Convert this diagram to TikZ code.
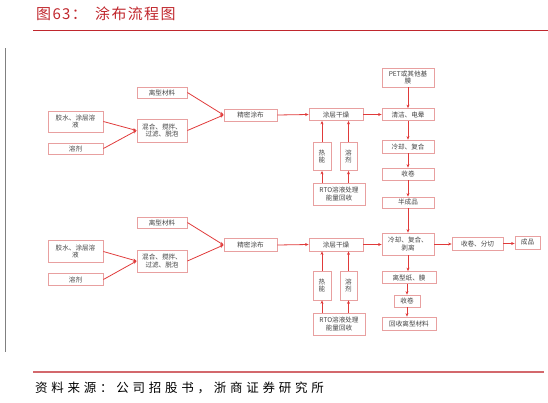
\documentclass[tikz,border=0pt]{standalone}
\usepackage{fontspec}
\newfontfamily\cjk{Noto Sans CJK SC}
\newfontfamily\cjktitle[LetterSpace=9]{Noto Sans CJK SC}
\newfontfamily\cjksrc[LetterSpace=30]{Noto Sans CJK SC}
\usetikzlibrary{arrows.meta}
\definecolor{boxred}{HTML}{E8A0A0}
\definecolor{arrred}{HTML}{E03A3A}
\definecolor{titlered}{HTML}{C0272D}
\definecolor{txtgray}{HTML}{444444}
\tikzset{
  box/.style={draw=boxred, line width=0.8pt, fill=white, inner sep=0pt,
    font=\cjk\fontsize{6.6}{7.6}\selectfont, text=txtgray, align=center},
  arr/.style={draw=arrred, line width=0.8pt, -{Stealth[length=3.5pt,width=3pt]}}
}
\begin{document}
\begin{tikzpicture}[x=1pt,y=-1pt]
\useasboundingbox (0,0) rectangle (548,402);
% frame decorations
\node[anchor=west, inner sep=0, font=\cjktitle\fontsize{15}{16}\selectfont, text=titlered] (title) at (36,14) {图63：};
\node[anchor=west, inner sep=0, font=\cjktitle\fontsize{15}{16}\selectfont, text=titlered] (title2) at (95,14) {涂布流程图};
\draw[titlered, line width=0.9pt] (33,30.5) coordinate (tl1) -- (548,30.5) coordinate (tl2);
\draw[gray, line width=0.5pt] (5,48) coordinate (gl1) -- (5,352) coordinate (gl2);
\draw[titlered!70, line width=1.2pt] (33,372) coordinate (bl1) -- (544,372) coordinate (bl2);
\node[anchor=west, inner sep=0, font=\cjksrc\fontsize{12.5}{13}\selectfont] (src) at (35,388) {资料来源：公司招股书，浙商证券研究所};

% ---------- upper section ----------
\node[box, minimum width=55pt, minimum height=21pt] (glue1) at (75.5,121.5) {胶水、涂层溶\\液};
\node[box, minimum width=55pt, minimum height=11pt] (solv1) at (75.5,148.5) {溶剂};
\node[box, minimum width=50pt, minimum height=11pt] (rel1) at (162,92.5) {离型材料};
\node[box, minimum width=50pt, minimum height=23pt] (mix1) at (162,130.5) {混合、搅拌、\\过滤、脱泡};
\node[box, minimum width=53pt, minimum height=12pt] (coat1) at (250.5,115) {精密涂布};
\node[box, minimum width=54pt, minimum height=12pt] (dry1) at (336,114.5) {涂层干燥};
\node[box, minimum width=18pt, minimum height=28pt] (heat1) at (322,156.5) {热\\能};
\node[box, minimum width=17pt, minimum height=28pt] (solv1v) at (348.5,156.5) {溶\\剂};
\node[box, minimum width=52pt, minimum height=22pt] (rto1) at (339,194) {RTO溶液处理\\能量回收};
\node[box, minimum width=52pt, minimum height=19pt] (pet) at (408,77.5) {PET或其他基\\膜};
\node[box, minimum width=52pt, minimum height=12pt] (clean) at (408,114.5) {清洁、电晕};
\node[box, minimum width=52pt, minimum height=13pt] (cool1) at (408,146.5) {冷却、复合};
\node[box, minimum width=52pt, minimum height=12pt] (wind1) at (408,174) {收卷};
\node[box, minimum width=52pt, minimum height=11pt] (semi) at (408,202.5) {半成品};

\draw[arr] (glue1.east) -- (mix1.west);
\draw[arr] (solv1.east) -- (mix1.west);
\draw[arr] (rel1.east) -- (coat1.west);
\draw[arr] (mix1.east) -- (coat1.west);
\draw[arr] (coat1.east) -- (dry1.west);
\draw[arr] (dry1.east) -- (clean.west);
\draw[arr] (rto1.north -| heat1.south) -- (heat1.south);
\draw[arr] (heat1.north) -- (heat1.north |- dry1.south);
\draw[arr] (rto1.north -| solv1v.south) -- (solv1v.south);
\draw[arr] (solv1v.north) -- (solv1v.north |- dry1.south);
\draw[arr] (pet) -- (clean);
\draw[arr] (clean) -- (cool1);
\draw[arr] (cool1) -- (wind1);
\draw[arr] (wind1) -- (semi);

% ---------- lower section ----------
\node[box, minimum width=50pt, minimum height=11pt] (rel2) at (162,222.5) {离型材料};
\node[box, minimum width=55pt, minimum height=22pt] (glue2) at (75.5,251.5) {胶水、涂层溶\\液};
\node[box, minimum width=55pt, minimum height=12pt] (solv2) at (75.5,279.5) {溶剂};
\node[box, minimum width=50pt, minimum height=22pt] (mix2) at (162,261) {混合、搅拌、\\过滤、脱泡};
\node[box, minimum width=53pt, minimum height=13pt] (coat2) at (250.5,245) {精密涂布};
\node[box, minimum width=54pt, minimum height=13pt] (dry2) at (336,244.5) {涂层干燥};
\node[box, minimum width=18pt, minimum height=29pt] (heat2) at (322,285.5) {热\\能};
\node[box, minimum width=17pt, minimum height=29pt] (solv2v) at (348.5,285.5) {溶\\剂};
\node[box, minimum width=52pt, minimum height=22pt] (rto2) at (339,324) {RTO溶液处理\\能量回收};
\node[box, minimum width=52pt, minimum height=22pt] (cool2) at (408,244) {冷却、复合、\\剥离};
\node[box, minimum width=51pt, minimum height=13pt] (slit) at (477.5,243.5) {收卷、分切};
\node[box, minimum width=25pt, minimum height=13pt] (prod) at (527.5,242.5) {成品};
\node[box, minimum width=54pt, minimum height=12pt] (relp) at (409,277.5) {离型纸、膜};
\node[box, minimum width=26pt, minimum height=12pt] (wind2) at (407,301) {收卷};
\node[box, minimum width=54pt, minimum height=13pt] (recl) at (409,323.5) {回收离型材料};

\draw[arr] (glue2.east) -- (mix2.west);
\draw[arr] (solv2.east) -- (mix2.west);
\draw[arr] (rel2.east) -- (coat2.west);
\draw[arr] (mix2.east) -- (coat2.west);
\draw[arr] (coat2.east) -- (dry2.west);
\draw[arr] (dry2.east) -- (cool2.west |- dry2.east);
\draw[arr] (rto2.north -| heat2.south) -- (heat2.south);
\draw[arr] (heat2.north) -- (heat2.north |- dry2.south);
\draw[arr] (rto2.north -| solv2v.south) -- (solv2v.south);
\draw[arr] (solv2v.north) -- (solv2v.north |- dry2.south);
\draw[arr] (semi) -- (cool2);
\draw[arr] (cool2.south) -- (cool2.south |- relp.north);
\draw[arr] (relp.south -| wind2.north) -- (wind2.north);
\draw[arr] (wind2.south) -- (wind2.south |- recl.north);
\draw[arr] (cool2.east) -- (cool2.east -| slit.west);
\draw[arr] (slit.east) -- (slit.east -| prod.west);
\end{tikzpicture}
\end{document}
